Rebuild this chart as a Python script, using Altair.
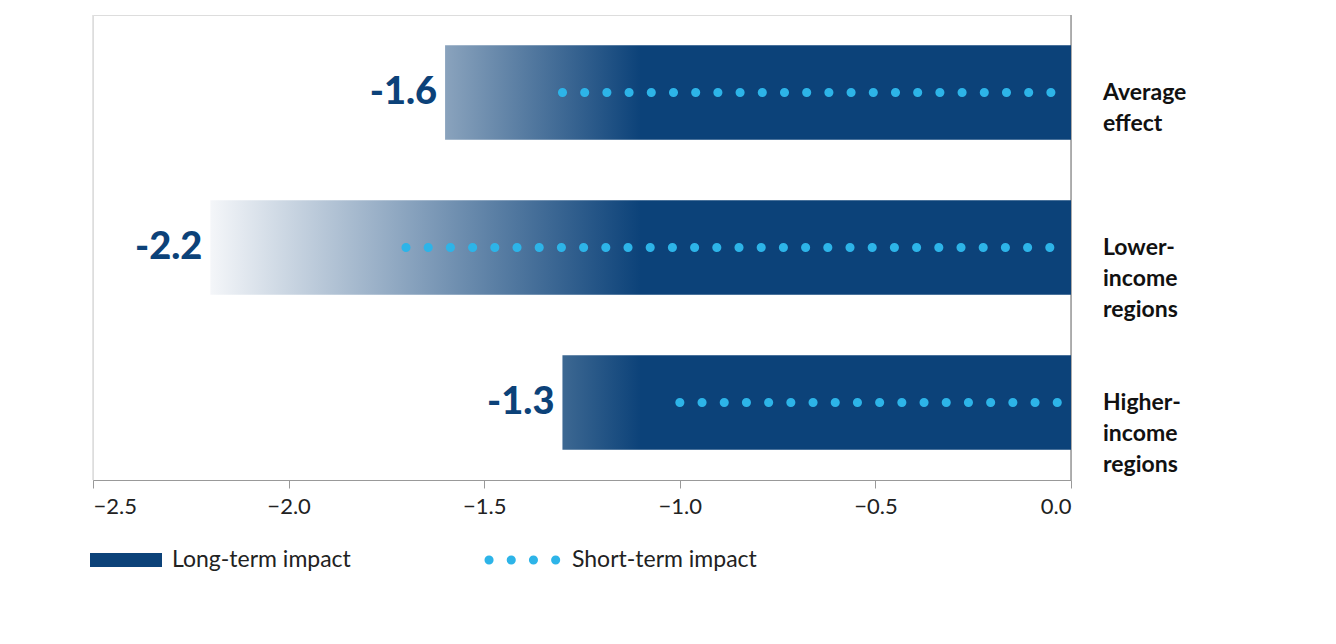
import altair as alt
import pandas as pd

DARK = "#0c4279"
DOT = "#2db4e8"
FONT = "Lato"

categories = ["Average\neffect", "Lower-\nincome\nregions", "Higher-\nincome\nregions"]
long_term = [-1.6, -2.2, -1.3]
short_term = [-1.3, -1.7, -1.0]
value_labels = ["-1.6", "-2.2", "-1.3"]
# light colour at the left end of each bar (gradient fades in from -2.2 to -1.1)
bar_start_colours = ["#8aa3bd", "#f4f6f9", "#3d6892"]

df = pd.DataFrame({
    "cat": categories,
    "long": long_term,
    "short": short_term,
    "label": value_labels,
    "zero": [0.0] * 3,
})

x_scale = alt.Scale(domain=[-2.5, 0.0], nice=False, clamp=False)
y_enc = alt.Y("cat:N", sort=categories, axis=None,
              scale=alt.Scale(paddingInner=0.39, paddingOuter=0.195))

base = alt.Chart(df)

bars = []
for cat, lt, start_col in zip(categories, long_term, bar_start_colours):
    dark_at = max(0.0, (-1.1 - lt) / (0 - lt))
    grad = alt.Gradient(
        gradient="linear",
        stops=[alt.GradientStop(color=start_col, offset=0),
               alt.GradientStop(color=DARK, offset=dark_at),
               alt.GradientStop(color=DARK, offset=1)],
        x1=0, x2=1, y1=0, y2=0,
    )
    bars.append(
        base.transform_filter(alt.datum.cat == cat)
        .mark_bar(color=grad)
        .encode(x=alt.X("long:Q", scale=x_scale,
                        axis=alt.Axis(values=[-2.5, -2.0, -1.5, -1.0, -0.5, 0.0], format=".1f",
                                      title=None, grid=False, labelFontSize=22, labelColor="#222",
                                      labelFont=FONT, labelPadding=8, tickColor="#999",
                                      domainColor="#999", tickSize=8)),
                x2="zero:Q", y=y_enc)
    )

dots = base.mark_rule(color=DOT, strokeWidth=9, strokeCap="round",
                      strokeDash=[0.1, 22.1]).encode(
    x="short:Q", x2="zero:Q", y=alt.Y("cat:N", sort=categories, axis=None))

values = base.mark_text(align="right", baseline="middle", dx=-8, fontSize=38,
                        fontWeight=900, color=DARK, font=FONT).encode(
    x="long:Q", y=alt.Y("cat:N", sort=categories), text="label:N")

cat_labels = base.mark_text(align="left", baseline="middle", dx=32, fontSize=23,
                            fontWeight="bold", color="#111", font=FONT, lineHeight=31,
                            lineBreak="\n").encode(
    x="zero:Q", y=alt.Y("cat:N", sort=categories), text="cat:N")

rules = pd.DataFrame({"x": [-2.5, 0.0], "c": ["#dddddd", "#999999"]})
vlines = alt.Chart(rules).mark_rule(strokeWidth=1.5).encode(
    x=alt.X("x:Q", scale=x_scale), color=alt.Color("c:N", scale=None),
    y=alt.value(0), y2=alt.value(465))

legend_df = pd.DataFrame({"a": [1]})
leg_bar = alt.Chart(legend_df).mark_rule(color=DARK, strokeWidth=14).encode(
    x=alt.value(-3), x2=alt.value(69), y=alt.value(545))
leg_bar_text = alt.Chart(legend_df).mark_text(
    text="Long-term impact", align="left", baseline="middle", fontSize=23,
    font=FONT, color="#222").encode(x=alt.value(79), y=alt.value(545))
leg_dots = alt.Chart(legend_df).mark_rule(color=DOT, strokeWidth=9, strokeCap="round",
                                          strokeDash=[0.1, 22.1]).encode(
    x=alt.value(396), x2=alt.value(464), y=alt.value(545))
leg_dots_text = alt.Chart(legend_df).mark_text(
    text="Short-term impact", align="left", baseline="middle", fontSize=23,
    font=FONT, color="#222").encode(x=alt.value(479), y=alt.value(545))

chart = alt.layer(
    vlines, *bars, dots, values, cat_labels,
    leg_bar, leg_bar_text, leg_dots, leg_dots_text,
).properties(
    width=978, height=465,
    autosize=alt.AutoSizeParams(type="none"),
    padding={"left": 85, "top": 7, "right": 240, "bottom": 140},
).configure_view(strokeWidth=0, stroke="transparent", clip=False).configure(background="white")

chart.save("out.html", embed_options={"renderer": "svg", "actions": False})
